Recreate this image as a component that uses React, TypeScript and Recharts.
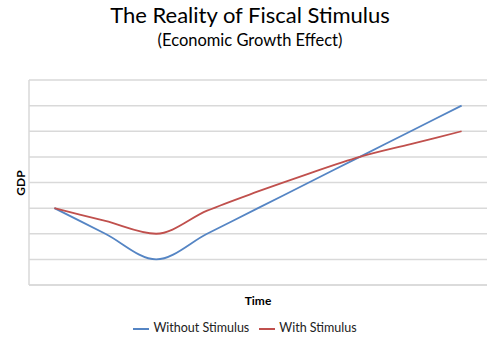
import { LineChart, Line, XAxis, YAxis, CartesianGrid, Legend, Label } from "recharts";

const periods = ["1", "2", "3", "4", "5", "6", "7", "8", "9"];
const withoutStimulus = [3, 2, 1, 2, 3, 4, 5, 6, 7];
const withStimulus = [3, 2.5, 2, 2.9, 3.65, 4.35, 5, 5.5, 6];
const gdpTicks = [0, 1, 2, 3, 4, 5, 6, 7, 8];
const seriesOrder = ["Without Stimulus", "With Stimulus"];

const data = periods.map((p, i) => ({
  period: p,
  without: withoutStimulus[i],
  with: withStimulus[i],
}));

const font = "Lato, 'Open Sans', sans-serif";

export default function App() {
  return (
    <div style={{ position: "absolute", left: 0, top: 0, width: 500, height: 364, background: "#fff", fontFamily: font }}>
      <div style={{ position: "absolute", top: 1, width: 500, textAlign: "center", fontSize: 22, color: "#000" }}>
        The Reality of Fiscal Stimulus
      </div>
      <div style={{ position: "absolute", top: 30, width: 500, textAlign: "center", fontSize: 16.5, color: "#000" }}>
        (Economic Growth Effect)
      </div>
      <div
        style={{
          position: "absolute",
          left: 20,
          top: 183,
          transform: "translate(-50%, -50%) rotate(-90deg)",
          fontSize: 12,
          fontWeight: 700,
          color: "#000",
        }}
      >
        GDP
      </div>
      <LineChart width={500} height={364} data={data} margin={{ top: 80, right: 13, left: 28, bottom: 49 }}>
        <CartesianGrid vertical={false} stroke="#d9d9d9" strokeWidth={1.5} />
        <XAxis
          dataKey="period"
          tick={() => <g />}
          tickLine={false}
          axisLine={{ stroke: "#d9d9d9", strokeWidth: 1.5 }}
          padding={{ left: 25.4, right: 25.4 }}
          height={30}
        >
          <Label value="Time" position="insideBottom" offset={10} style={{ fontFamily: font, fontSize: 12, fontWeight: 700, fill: "#000" }} />
        </XAxis>
        <YAxis
          domain={[0, 8]}
          ticks={gdpTicks}
          tick={() => <g />}
          tickLine={false}
          width={1}
          axisLine={{ stroke: "#d9d9d9", strokeWidth: 1.5 }}
        />
        <Legend
          verticalAlign="middle"
          align="center"
          iconType="plainline"
          iconSize={16}
          itemSorter={(item: any) => seriesOrder.indexOf(item.value)}
          wrapperStyle={{ top: 320, left: 0, width: 500, fontSize: 12.5, fontFamily: font }}
          formatter={(v) => <span style={{ color: "#222" }}>{v}</span>}
        />
        <Line type="monotone" dataKey="without" name="Without Stimulus" stroke="#5585C4" strokeWidth={1.8} dot={false} isAnimationActive={false} />
        <Line type="monotone" dataKey="with" name="With Stimulus" stroke="#C0504D" strokeWidth={1.8} dot={false} isAnimationActive={false} />
      </LineChart>
    </div>
  );
}
